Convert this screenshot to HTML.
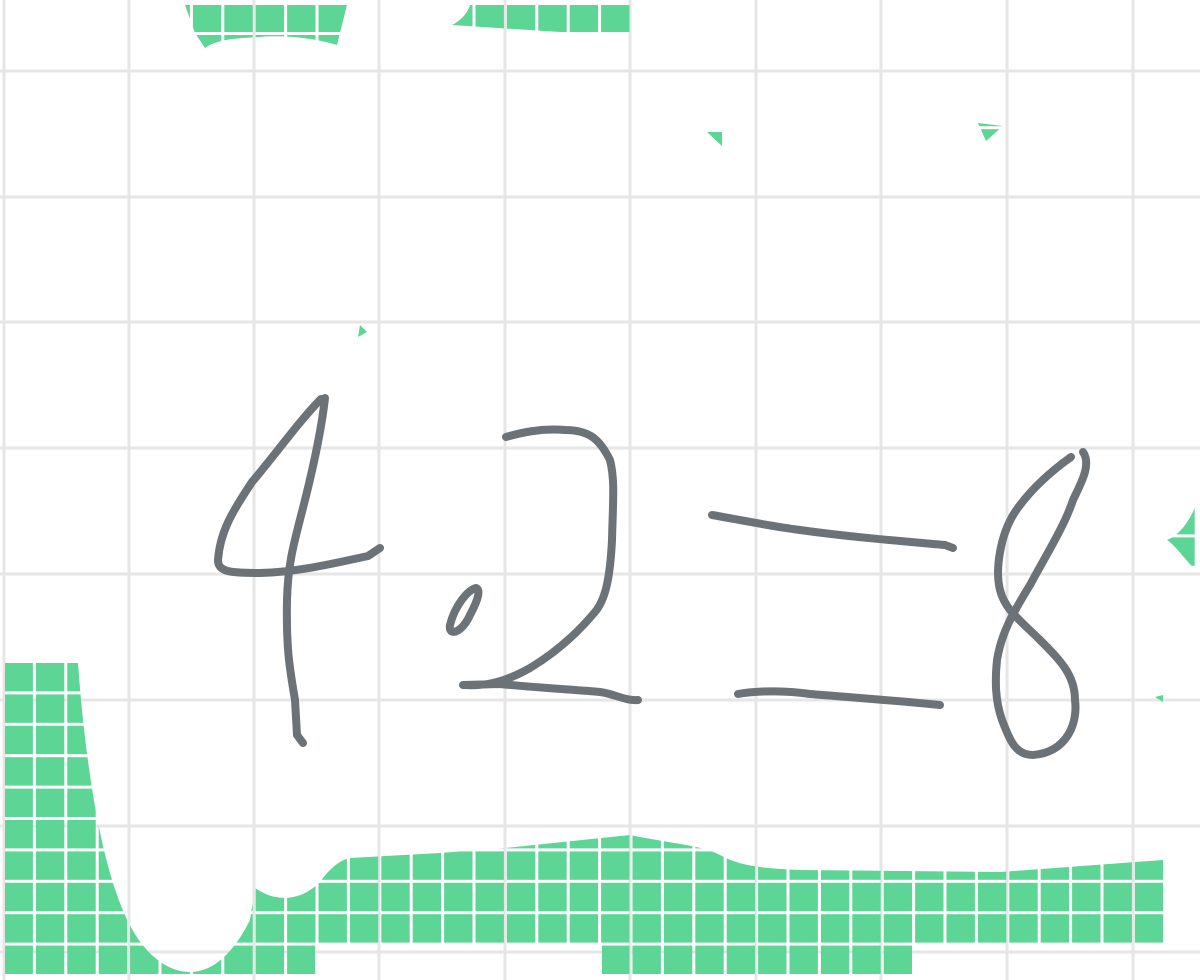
<!DOCTYPE html>
<html><head><meta charset="utf-8"><style>
html,body{margin:0;padding:0;background:#fff;width:1200px;height:980px;overflow:hidden;font-family:"Liberation Sans",sans-serif}
</style></head><body>
<svg width="1200" height="980" viewBox="0 0 1200 980" xmlns="http://www.w3.org/2000/svg">
<defs>
<pattern id="tiles" x="4.5" y="3.6" width="31.4" height="31.4" patternUnits="userSpaceOnUse">
<rect x="0" y="0" width="28.4" height="28.4" fill="#5cd595"/>
</pattern>
</defs>
<g id="grid" stroke="#e6e6e6" stroke-width="3"></g>
<g fill="url(#tiles)">
<path d="M5,663 L78,663 C85,760 100,860 125,915 C140,950 165,972 190,972 C215,972 235,950 250,920 L255,888 C275,902 300,902 320,882 C330,868 340,860 350,858 L440,853 L505,848 L630,835 C680,845 700,845 720,855 C740,866 760,868 800,870 L1000,872 L1163,860 L1163,945 L912,945 L912,977 L602,977 L602,945 L315,945 L315,977 L5,977 Z"/>
<path d="M185,5 L347,5 L337,45 C310,37 280,35 260,37 C235,38 215,40 205,48 L195,33 Z"/>
<path d="M470,5 L630,5 L630,33 L560,32 L452,25 C462,20 468,12 470,5 Z"/>
<path d="M1196,505 L1196,570 C1185,560 1175,545 1167,540 C1180,535 1190,520 1196,505 Z"/>
<path d="M707,132 L722,132 L722,146 Z"/>
<path d="M978,123 L1003,126 L986,141 Z"/>
<path d="M360,325 L367,332 L358,337 Z"/>
<path d="M1155,697 L1163,695 L1163,702 Z"/>
</g>
<g fill="none" stroke="#6b7278" stroke-width="8" stroke-linecap="round" stroke-linejoin="round">
<path d="M321,399 C300,420 275,455 252,482 C232,512 220,532 218,560 C218,572 230,573 260,573 C300,572 340,562 368,556 L380,548"/>
<path d="M325,398 C322,425 315,460 305,500 C295,540 288,560 287,600 C286,650 290,670 295,700 L297,735 L303,743"/>
<path d="M476,588 C468,590 455,605 450,625 C448,637 462,633 470,615 C478,600 481,590 476,588"/>
<path d="M506,437 C520,433 540,428 565,430 C590,430 600,440 610,460 C615,480 613,500 612,540 C610,580 605,600 595,612 C580,630 560,650 530,668 C500,685 480,686 463,685 L500,684 C540,688 580,690 600,692 C615,694 625,701 638,700"/>
<path d="M712,515 C740,520 770,526 800,530 C850,537 900,541 945,545 L953,548"/>
<path d="M738,694 C760,690 790,691 810,694 C860,698 900,701 940,705"/>
<path d="M1071,457 C1050,472 1030,490 1015,512 C1000,535 995,570 1000,590 C1005,610 1020,620 1040,640 C1060,660 1075,675 1075,700 C1078,722 1068,752 1033,755 C1015,755 1010,740 1002,720 C995,700 995,680 997,660 C1002,630 1015,610 1030,585 C1045,557 1065,525 1073,500 C1080,485 1092,465 1083,452"/>
</g>
</svg>
<script>
const vx=[4,129,254,379,505,630,756,881,1007,1133];
const hy=[71,197,322,448,574,700,826,952];
const g=document.getElementById('grid');
const NS='http://www.w3.org/2000/svg';
vx.forEach(x=>{const l=document.createElementNS(NS,'line');


l.setAttribute('x1',x);l.setAttribute('x2',x);l.setAttribute('y1',0);l.setAttribute('y2',980);g.appendChild(l);});
hy.forEach(y=>{const l=document.createElementNS(NS,'line');


l.setAttribute('x1',0);l.setAttribute('x2',1200);l.setAttribute('y1',y);l.setAttribute('y2',y);g.appendChild(l);});
</script>
</body></html>
